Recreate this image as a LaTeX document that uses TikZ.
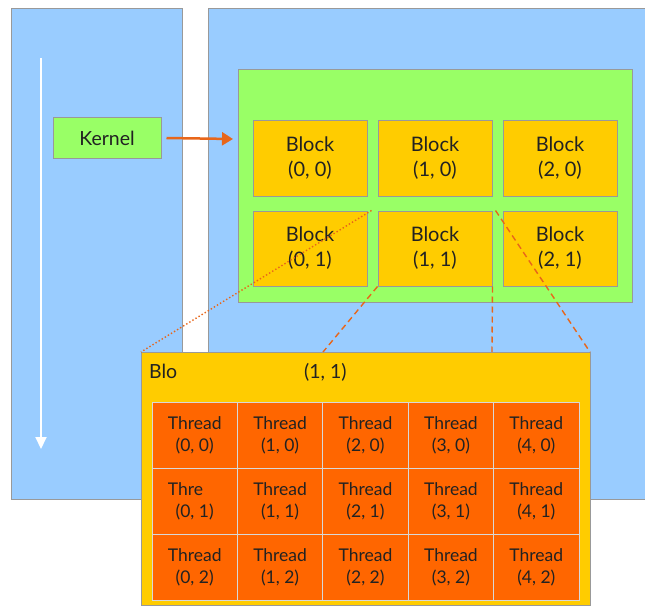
\documentclass[tikz,border=0pt]{standalone}
\usepackage{fontspec}
\setmainfont{Lato}
\usetikzlibrary{arrows.meta}
\definecolor{panelblue}{HTML}{99CCFF}
\definecolor{gridgreen}{HTML}{99FF66}
\definecolor{blockyellow}{HTML}{FFCC00}
\definecolor{threadorange}{HTML}{FF6600}
\definecolor{edgegray}{HTML}{999999}
\definecolor{cellline}{HTML}{D8D8D8}
\definecolor{linkorange}{HTML}{E8661A}
\definecolor{inktext}{HTML}{222222}
% thread caption; cell (0,1) shows a clipped word
\newcommand{\threadword}[2]{\ifnum#1=0 \ifnum#2=1 \rlap{Thre}\phantom{Thread}\else Thread\fi\else Thread\fi}
\begin{document}
\begin{tikzpicture}[x=1pt,y=-1pt,
  panel/.style={draw=edgegray, fill=panelblue, line width=1pt},
  gridbox/.style={draw=edgegray, fill=gridgreen, line width=1pt},
  kernelbox/.style={draw=edgegray, fill=gridgreen, line width=1pt, minimum width=108pt, minimum height=40pt, inner sep=0pt, text=inktext, font=\fontsize{19.5}{23}\selectfont},
  blockbox/.style={draw=edgegray, fill=blockyellow, line width=1pt, minimum width=114pt, minimum height=75pt, inner sep=0pt, align=center, text=inktext, font=\fontsize{20}{25}\selectfont},
  bigblock/.style={draw=edgegray, fill=blockyellow, line width=1pt},
  threadcell/.style={draw=cellline, fill=threadorange, line width=1pt, minimum width=85.4pt, minimum height=66.3pt, inner sep=0pt, align=center, text=inktext, font=\fontsize{17.5}{22}\selectfont},
  biglabel/.style={anchor=base west, text=inktext, font=\fontsize{19.5}{23}\selectfont, inner sep=0pt},
  zoomline/.style={draw=linkorange, line width=1.4pt, dash pattern=on 6pt off 4pt},
  zoomdots/.style={draw=linkorange, line width=1.4pt, dash pattern=on 1.4pt off 2.2pt}
]
\useasboundingbox (0,0) rectangle (645,607);

% host and device panels
\path[panel] (11,9) rectangle (182,499);
\path[panel] (208,9) rectangle (660,499);

% time arrow on the host side
\coordinate (tstart) at (41,58);
\coordinate (tend) at (41,449);
\draw[white, line width=2pt, -{Triangle[length=12pt,width=11pt]}] (tstart) -- (tend);

% kernel launch
\node[kernelbox] (kernel) at (107,138) {Kernel};
\path[gridbox] (238,70) rectangle (632,302);
\coordinate (gridin) at (233,139);
\draw[linkorange, line width=2.5pt, -{Triangle[length=11pt,width=13pt]}] ([xshift=5pt]kernel.east) -- (gridin);

% blocks of the grid
\foreach \i/\x in {0/310,1/435,2/560}{
  \foreach \j/\y in {0/158.5,1/248.5}{
    \node[blockbox] (b\i\j) at (\x,\y) {Block\\(\i, \j)};
  }
}

% enlarged block (1,1)
\path[bigblock] (141,352) rectangle (590,605);
\node[biglabel] (blo) at (149,378) {Blo};
\node[biglabel] (blonum) at (304,378) {(1, 1)};

\coordinate (zl) at (323,352);
\coordinate (zm) at (492,352);
\coordinate (zr) at (590,352);
\coordinate (zd) at (141,352);

% threads of the block
\foreach \i in {0,...,4}{
  \foreach \j in {0,1,2}{
    \node[threadcell] (t\i\j) at ({152+42.7+85.4*\i},{402+33.15+66.3*\j}) {\threadword{\i}{\j}\\(\i, \j)};
  }
}

% projection lines from block (1,1)
\draw[zoomline] (b11.south west) -- (zl);
\draw[zoomline] (b11.south east) -- (zm);
\draw[zoomline] ([xshift=3pt]b11.north east) -- (zr);
\draw[zoomdots] ([xshift=-6pt]b11.north west) -- (zd);
\end{tikzpicture}
\end{document}
